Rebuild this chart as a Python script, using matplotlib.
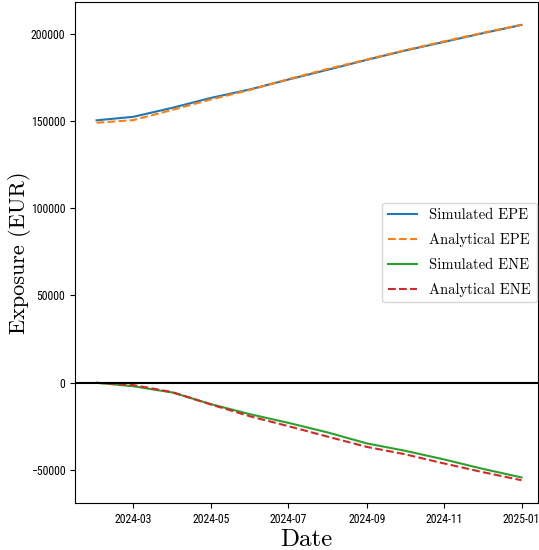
import numpy as np
import matplotlib
matplotlib.use('Agg')
import matplotlib.pyplot as plt
import matplotlib.dates as mdates
from matplotlib import font_manager

# monthly exposure profile
dates = np.array(['2024-02-01', '2024-03-01', '2024-04-01', '2024-05-01', '2024-06-01', '2024-07-01',
                  '2024-08-01', '2024-09-01', '2024-10-01', '2024-11-01', '2024-12-01', '2025-01-01'],
                 dtype='datetime64[D]')
sim_epe = [150300, 152300, 157500, 163100, 168000, 173600, 179200, 184900, 190200, 195200, 200100, 204900]
ana_epe = [148900, 150400, 156300, 162200, 167700, 173800, 179700, 185100, 190400, 195500, 200300, 205000]
sim_ene = [0, -2000, -5600, -12200, -18000, -22900, -28400, -34700, -38900, -43900, -49200, -54200]
ana_ene = [0, -1300, -5400, -12400, -19200, -24800, -30800, -36700, -40900, -46200, -51100, -55800]

# pick a narrow face for the tick labels if one is installed
names = {f.name for f in font_manager.fontManager.ttflist}
tick_font = 'DejaVu Sans'
for cand in ['DejaVu Sans Condensed', 'Liberation Sans Narrow', 'Roboto Condensed']:
    if cand in names:
        tick_font = cand
        break

fig = plt.figure(figsize=(5.39, 5.5), dpi=100)
ax = fig.add_axes([75/539, 1-503/550, 463/539, 501/550])

ax.plot(dates, sim_epe, color='tab:blue', lw=1.5, label='Simulated EPE')
ax.plot(dates, ana_epe, '--', color='tab:orange', lw=1.5, label='Analytical EPE')
ax.plot(dates, sim_ene, color='tab:green', lw=1.5, label='Simulated ENE')
ax.plot(dates, ana_ene, '--', color='tab:red', lw=1.5, label='Analytical ENE')
ax.axhline(0, color='black', lw=1.5)
ax.set_xlim(np.datetime64('2024-01-15'), np.datetime64('2025-01-14'))
ax.xaxis.set_major_locator(mdates.MonthLocator(bymonth=[1, 3, 5, 7, 9, 11]))
ax.xaxis.set_major_formatter(mdates.DateFormatter('%Y-%m'))

for lab in ax.get_xticklabels() + ax.get_yticklabels():
    lab.set_fontfamily(tick_font)
    lab.set_fontsize(8.5)

ax.set_xlabel('Date', fontname='cmr10', fontsize=18, labelpad=2)
ax.set_ylabel('Exposure (EUR)', fontname='cmr10', fontsize=16)
ax.yaxis.set_label_coords(-0.095, 0.5)
ax.legend(loc='center right', prop={'family': 'cmr10', 'size': 10.5}, labelspacing=0.75,
          borderaxespad=0.1, framealpha=0.8)

fig.savefig('out.png', dpi=100)
